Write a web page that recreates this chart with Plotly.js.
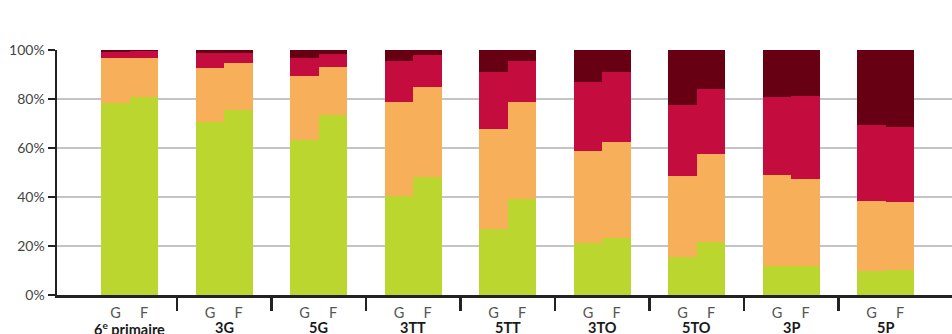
<!DOCTYPE html>
<html>
<head>
<meta charset="utf-8">
<script src="https://cdn.plot.ly/plotly-3.0.1.min.js"></script>
<style>html,body{margin:0;padding:0;background:#fff;}#chart{width:952px;height:334px;}</style>
</head>
<body>
<div id="chart"></div>
<script>
const groups = ["6<sup>e</sup> primaire", "3G", "5G", "3TT", "5TT", "3TO", "5TO", "3P", "5P"];
const sexes = ["G", "F"];
// values per group: [G, F]
const green   = [[78.4, 80.8], [70.7, 75.5], [63.4, 73.3], [40.5, 48.2], [26.9, 39.2], [21.2, 23.3], [15.5, 21.6], [11.8, 11.8], [9.8, 10.2]];
const orange  = [[18.2, 15.9], [22.0, 19.2], [26.0, 19.8], [38.3, 36.7], [40.9, 39.6], [37.6, 39.1], [33.1, 36.0], [37.2, 35.5], [28.6, 27.8]];
const crimson = [[2.6, 2.8], [5.9, 4.2], [7.3, 5.3], [16.7, 13.1], [23.2, 16.7], [28.1, 28.6], [29.0, 26.5], [31.8, 33.9], [31.0, 30.6]];
const dark    = [[0.8, 0.5], [1.4, 1.1], [3.3, 1.6], [4.5, 2.0], [9.0, 4.5], [13.1, 9.0], [22.4, 15.9], [19.2, 18.8], [30.6, 31.4]];

const segNames = ["vert", "orange", "rouge", "bordeaux"];
const segColors = ["#bcd630", "#f8af5a", "#c50c3e", "#670012"];
const segData = [green, orange, crimson, dark];

const halfW = 0.151;
const xs = [], tickText = [];
groups.forEach((g, i) => { sexes.forEach((s, j) => { xs.push(i + (j === 0 ? -halfW : halfW)); tickText.push(s); }); });

const traces = segData.map((arr, k) => ({
  type: "bar",
  name: segNames[k],
  x: xs,
  y: arr.flat(),
  width: halfW * 2,
  marker: { color: segColors[k], line: { width: 0 } },
  hoverinfo: "y"
}));

const xRange = [-0.77, groups.length - 1 + 0.70];
const seps = groups.slice(1).map((g, i) => i + 0.5);

const annotations = groups.map((g, i) => ({
  x: i, y: 0, xref: "x", yref: "paper",
  yanchor: "top", yshift: -22,
  text: "<b>" + g + "</b>", showarrow: false,
  font: { family: "Lato, 'Open Sans', sans-serif", size: 14.5, color: "#1a1a1a" }
}));

const layout = {
  width: 952, height: 334,
  margin: { l: 56.5, r: 0, t: 49.5, b: 39 },
  paper_bgcolor: "#ffffff", plot_bgcolor: "#ffffff",
  barmode: "stack",
  showlegend: false,
  xaxis: {
    range: xRange, tickmode: "array", tickvals: xs, ticktext: tickText,
    ticks: "", showgrid: false, zeroline: false,
    showline: true, linecolor: "#222222", linewidth: 2.5,
    ticklabelstandoff: 3,
    tickfont: { family: "Lato, 'Open Sans', sans-serif", size: 14.5, color: "#555555" },
    fixedrange: true
  },
  xaxis2: {
    overlaying: "x", anchor: "y", side: "bottom",
    range: xRange, tickmode: "array", tickvals: seps,
    ticks: "outside", ticklen: 15, tickwidth: 2.5, tickcolor: "#222222",
    showticklabels: false, showgrid: false, zeroline: false, showline: false
  },
  yaxis: {
    range: [0, 100], tickmode: "array", tickvals: [0, 20, 40, 60, 80, 100],
    ticktext: ["0%", "20%", "40%", "60%", "80%", "100%"],
    ticks: "outside", ticklen: 7, tickwidth: 2, tickcolor: "#222222",
    showgrid: true, gridcolor: "#c4c4c4", gridwidth: 2,
    zeroline: false, showline: true, linecolor: "#222222", linewidth: 2.5,
    tickfont: { family: "Lato, 'Open Sans', sans-serif", size: 14, color: "#444444" },
    fixedrange: true
  },
  annotations: annotations
};

// invisible trace to activate xaxis2 (separator ticks)
traces.push({ type: "scatter", x: [0], y: [0], xaxis: "x2", yaxis: "y", mode: "markers", marker: { opacity: 0 }, hoverinfo: "skip", showlegend: false });

Plotly.newPlot("chart", traces, layout, { displayModeBar: false, staticPlot: true });
</script>
</body>
</html>
